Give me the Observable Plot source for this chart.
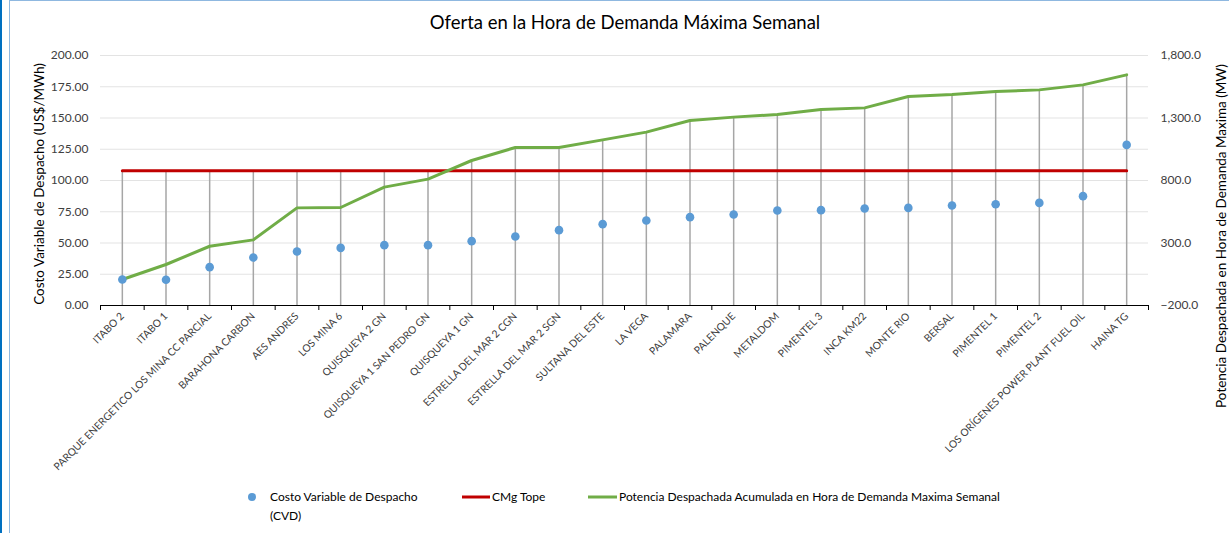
<!DOCTYPE html>
<html>
<head>
<meta charset="utf-8">
<script src="https://cdn.jsdelivr.net/npm/d3@7"></script>
<script src="https://cdn.jsdelivr.net/npm/@observablehq/plot@0.6"></script>
<style>
  html, body { margin: 0; padding: 0; background: #fff; }
  #chart { width: 1229px; height: 533px; overflow: hidden; }
</style>
</head>
<body>
<div id="chart"></div>
<script>
const categories = [
  "ITABO 2", "ITABO 1", "PARQUE ENERGETICO LOS MINA CC PARCIAL", "BARAHONA CARBON",
  "AES ANDRES", "LOS MINA 6", "QUISQUEYA 2 GN", "QUISQUEYA 1 SAN PEDRO GN",
  "QUISQUEYA 1 GN", "ESTRELLA DEL MAR 2 CGN", "ESTRELLA DEL MAR 2 SGN", "SULTANA DEL ESTE",
  "LA VEGA", "PALAMARA", "PALENQUE", "METALDOM", "PIMENTEL 3", "INCA KM22",
  "MONTE RIO", "BERSAL", "PIMENTEL 1", "PIMENTEL 2", "LOS ORÍGENES POWER PLANT FUEL OIL", "HAINA TG"
];
const cvd = [20.8, 20.6, 30.7, 38.4, 43.2, 46.1, 48.3, 48.3, 51.5, 55.2, 60.3, 65.1,
             68.0, 70.7, 72.8, 76.0, 76.3, 77.6, 78.1, 80.0, 81.0, 82.1, 87.5, 128.5];
const potencia = [8, 128, 274, 325, 581, 584, 747, 811, 960, 1064, 1064, 1125,
                  1187, 1280, 1307, 1328, 1368, 1381, 1472, 1488, 1512, 1525, 1565, 1645];
const cmgTope = 107.8;
const leftTicks = [0, 25, 50, 75, 100, 125, 150, 175, 200];
const rightTicks = [-200, 300, 800, 1300, 1800];
const rightDomain = [-200, 1800];
const leftDomain = [0, 200];

const title = "Oferta en la Hora de Demanda Máxima Semanal";
const leftTitle = "Costo Variable de Despacho (US$/MWh)";
const rightTitle = "Potencia Despachada en Hora de Demanda Maxima (MW)";
const legendCvd = ["Costo Variable de Despacho", "(CVD)"];
const legendCmg = "CMg Tope";
const legendPot = "Potencia Despachada Acumulada en Hora de Demanda Maxima Semanal";

// map right-axis values onto the left scale
const toLeft = v => leftDomain[0] + (v - rightDomain[0]) * (leftDomain[1] - leftDomain[0]) / (rightDomain[1] - rightDomain[0]);
const fromLeft = d => rightDomain[0] + (d - leftDomain[0]) * (rightDomain[1] - rightDomain[0]) / (leftDomain[1] - leftDomain[0]);

const rows = categories.map((name, i) => {
  const potL = toLeft(potencia[i]);
  return { i, x: i + 0.5, name, cvd: cvd[i], pot: potencia[i], potL, cmg: cmgTope,
           top: Math.max(cmgTope, potL, cvd[i]) };
});

const FONT = "Lato, 'Open Sans', sans-serif";
const W = 1229, H = 533;
const mL = 100, mR = 81, mT = 55, mB = 228;

const chart = Plot.plot({
  width: W, height: H,
  marginLeft: mL, marginRight: mR, marginTop: mT, marginBottom: mB,
  style: { fontFamily: FONT, background: "transparent", color: "#404040" },
  x: { type: "linear", domain: [0, categories.length] },
  y: { domain: leftDomain },
  marks: [
    Plot.gridY(leftTicks, { stroke: "#e3e3e3", strokeOpacity: 1, strokeWidth: 1 }),
    Plot.ruleX(rows, { x: "x", y1: 0, y2: "top", stroke: "#a6a6a6", strokeWidth: 1.5 }),
    Plot.line(rows, { x: "x", y: "cmg", stroke: "#c00000", strokeWidth: 3 }),
    Plot.line(rows, { x: "x", y: "potL", stroke: "#70ad47", strokeWidth: 3 }),
    Plot.dot(rows, { x: "x", y: "cvd", r: 4.3, fill: "#5b9bd5", stroke: "none" }),
    Plot.ruleY([0], { stroke: "#000", strokeWidth: 1 }),
    Plot.axisY(leftTicks, { anchor: "left", tickSize: 0, tickPadding: 12, fontSize: 12,
      tickFormat: d3.format(".2f"), label: null, fill: "#404040" }),
    Plot.axisY(rightTicks.map(toLeft), { anchor: "right", tickSize: 0, tickPadding: 12, fontSize: 12,
      tickFormat: d => d3.format(",.1f")(fromLeft(d)), label: null, fill: "#404040" }),
    Plot.axisX(d3.range(categories.length + 1), { tickSize: 5, tickFormat: () => "", label: null, stroke: "#000" }),
    Plot.axisX(rows.map(r => r.x), { tickSize: 0, tickPadding: 9, tickRotate: -45, fontSize: 10.3,
      tickFormat: d => categories[Math.floor(d)], label: null, fill: "#404040" })
  ]
});

document.getElementById("chart").appendChild(chart);

const svg = d3.select(chart);
// frame borders
svg.insert("rect", ":first-child").attr("x", 0).attr("y", 0).attr("width", W).attr("height", H).attr("fill", "#fff");
svg.append("rect").attr("x", 0).attr("y", 0).attr("width", 2).attr("height", H).attr("fill", "#0070c0");
svg.append("line").attr("x1", 9.5).attr("x2", 9.5).attr("y1", 0).attr("y2", H).attr("stroke", "#8fb8e0");
svg.append("line").attr("x1", 9).attr("x2", W).attr("y1", 0.5).attr("y2", 0.5).attr("stroke", "#8fb8e0");

// title
svg.append("text").attr("x", 625).attr("y", 29).attr("text-anchor", "middle")
  .attr("font-family", FONT).attr("font-size", 18.5).attr("fill", "#000").text(title);

// axis titles
svg.append("text").attr("transform", "translate(44,184) rotate(-90)").attr("text-anchor", "middle")
  .attr("font-family", FONT).attr("font-size", 13.5).attr("fill", "#000").text(leftTitle);
svg.append("text").attr("transform", "translate(1226,236) rotate(-90)").attr("text-anchor", "middle")
  .attr("font-family", FONT).attr("font-size", 13.5).attr("fill", "#000").text(rightTitle);

// legend
const lg = svg.append("g").attr("font-family", FONT).attr("font-size", 12).attr("fill", "#000")
  .attr("text-anchor", "start");
lg.append("circle").attr("cx", 252).attr("cy", 497).attr("r", 4).attr("fill", "#5b9bd5");
lg.append("text").attr("x", 270).attr("y", 501).text(legendCvd[0]);
lg.append("text").attr("x", 270).attr("y", 520).text(legendCvd[1]);
lg.append("line").attr("x1", 462).attr("x2", 490).attr("y1", 497).attr("y2", 497).attr("stroke", "#c00000").attr("stroke-width", 3);
lg.append("text").attr("x", 492).attr("y", 501).text(legendCmg);
lg.append("line").attr("x1", 588).attr("x2", 617).attr("y1", 497).attr("y2", 497).attr("stroke", "#70ad47").attr("stroke-width", 3);
lg.append("text").attr("x", 619).attr("y", 501).text(legendPot);
</script>
</body>
</html>
